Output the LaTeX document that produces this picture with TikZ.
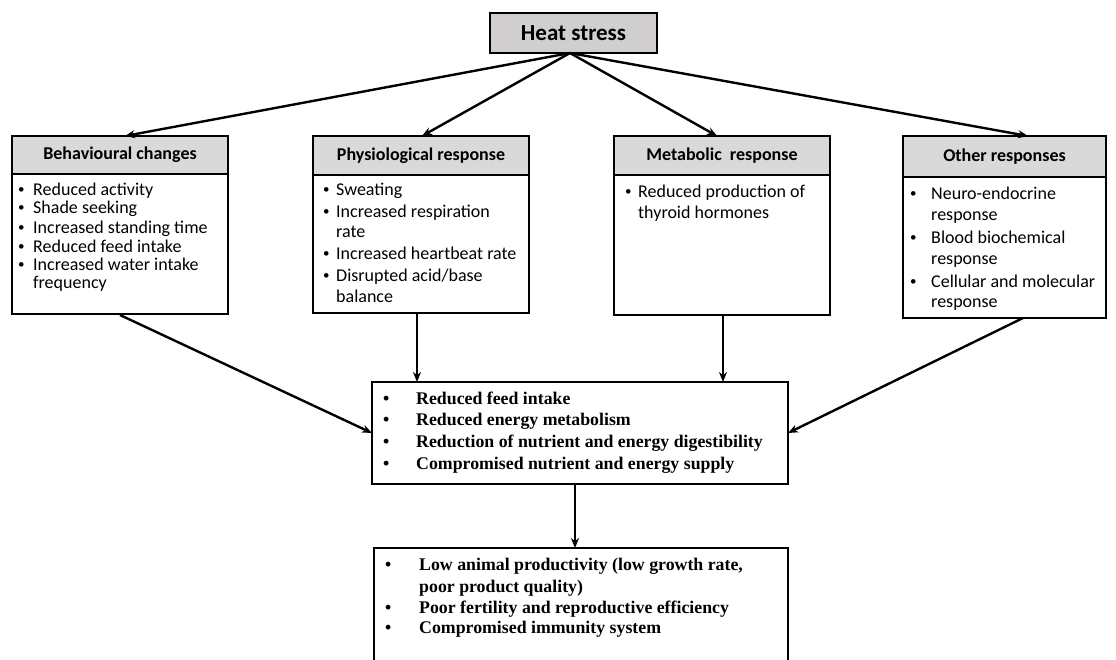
\documentclass[tikz,border=0pt]{standalone}
\usepackage{fontspec}
\setmainfont{Liberation Serif}
\setsansfont{Carlito}
\usetikzlibrary{arrows.meta,calc}
\definecolor{hsgray}{HTML}{D0CECE}
\definecolor{hdgray}{HTML}{D9D9D9}
\newcommand\sbul[5]{%
  \node[sline] (#1b) at (#2,#4) {\raisebox{1.2pt}{\fontsize{13}{15}\selectfont\textbullet}};
  \node[sline] (#1) at (#3,#4) {#5};}
\newcommand\rbul[5]{%
  \node[rline] (#1b) at (#2,#4) {\textbullet};
  \node[rline] (#1) at (#3,#4) {#5};}
\begin{document}
\begin{tikzpicture}[x=1pt,y=-1pt,
  box/.style={draw=black,line width=1.5pt,inner sep=0pt,outer sep=0pt},
  hdr/.style={box,fill=hdgray,font=\sffamily\bfseries\fontsize{18}{21}\selectfont},
  body/.style={box,fill=white},
  sline/.style={anchor=base west,inner sep=0pt,font=\sffamily\fontsize{18}{21}\selectfont},
  rline/.style={anchor=base west,inner sep=0pt,font=\rmfamily\bfseries\fontsize{17.8}{21}\selectfont},
  arr/.style={line width=2.4pt,-{Stealth[length=10pt,width=8pt]}}]
\useasboundingbox (0,0) rectangle (1116,659);
\clip (0,0) rectangle (1116,659);

% top
\node[box,fill=hsgray,minimum width=167pt,minimum height=40pt,
  font=\sffamily\bfseries\fontsize{23}{27}\selectfont] (hs) at (573.5,33) {Heat stress};

% headers and bodies
\node[hdr,minimum width=216pt,minimum height=38pt] (behH) at (120,155) {Behavioural changes};
\node[body,minimum width=216pt,minimum height=140pt] (behB) at (120,244) {};
\node[hdr,minimum width=216pt,minimum height=39pt] (phyH) at (421,155.5) {Physiological response};
\node[body,minimum width=216pt,minimum height=138pt] (phyB) at (421,244) {};
\node[hdr,minimum width=216pt,minimum height=39pt] (metH) at (722,155.5) {Metabolic\ \ response};
\node[body,minimum width=216pt,minimum height=140pt] (metB) at (722,245) {};
\node[hdr,minimum width=203pt,minimum height=41pt] (othH) at (1004.5,156.5) {Other responses};
\node[body,minimum width=203pt,minimum height=141pt] (othB) at (1004.5,247.5) {};

% behavioural items
\sbul{b1}{18}{33}{195}{Reduced activity}
\sbul{b2}{18}{33}{213}{Shade seeking}
\sbul{b3}{18}{33}{233}{Increased standing time}
\sbul{b4}{18}{33}{252}{Reduced feed intake}
\sbul{b5}{18}{33}{270}{Increased water intake}
\node[sline] (b6) at (33,288) {frequency};

% physiological items
\sbul{p1}{323}{336}{195}{Sweating}
\sbul{p2}{323}{336}{217}{Increased respiration}
\node[sline] (p3) at (336,237) {rate};
\sbul{p4}{323}{336}{259}{Increased heartbeat rate}
\sbul{p5}{323}{336}{281}{Disrupted acid/base}
\node[sline] (p6) at (336,302) {balance};

% metabolic items
\sbul{m1}{625}{638}{197}{Reduced production of}
\node[sline] (m2) at (638,218) {thyroid hormones};

% other items
\sbul{o1}{910}{931}{199}{Neuro-endocrine}
\node[sline] (o2) at (931,220) {response};
\sbul{o3}{910}{931}{243}{Blood biochemical}
\node[sline] (o4) at (931,264) {response};
\sbul{o5}{910}{931}{287}{Cellular and molecular}
\node[sline] (o6) at (931,307) {response};

% middle box
\node[box,fill=white,minimum width=416pt,minimum height=102pt] (mid) at (580,433) {};
\rbul{c1}{383}{416}{404}{Reduced feed intake}
\rbul{c2}{383}{416}{425}{Reduced energy metabolism}
\rbul{c3}{383}{416}{447}{Reduction of nutrient and energy digestibility}
\rbul{c4}{383}{416}{469}{Compromised nutrient and energy supply}

% bottom box
\node[box,fill=white,minimum width=414pt,minimum height=130pt,anchor=north] (bot) at (581,548) {};
\rbul{d1}{385}{419}{570}{Low animal productivity (low growth rate,}
\node[rline] (d2) at (419,592) {poor product quality)};
\rbul{d3}{385}{419}{613}{Poor fertility and reproductive efficiency}
\rbul{d4}{385}{419}{633}{Compromised immunity system}

% arrows from heat stress
\coordinate (hsS) at ($(hs.south)+(-3.5,0)$);
\draw[arr] (hsS) -- ($(behH.north)+(5,0)$);
\draw[arr] (hsS) -- ($(phyH.north)+(1,0)$);
\draw[arr] (hsS) -- ($(metH.north)+(-5,0)$);
\draw[arr] (hsS) -- ($(othH.north)+(23.5,0)$);

% arrows into middle box
\coordinate (behS) at ($(behB.south)+(0,1)$);
\coordinate (othS) at ($(othB.south)+(18.5,0)$);
\coordinate (phyS) at ($(phyB.south)+(-4,0)$);
\coordinate (metS) at ($(metB.south)+(1,0)$);
\coordinate (midS) at ($(mid.south)+(-5,0)$);
\draw[arr] (behS) -- (mid.west);
\draw[arr] (othS) -- (mid.east);
\draw[arr] (phyS) -- (phyS |- mid.north);
\draw[arr] (metS) -- (metS |- mid.north);

% middle to bottom
\draw[arr] (midS) -- (midS |- bot.north);
\end{tikzpicture}
\end{document}
